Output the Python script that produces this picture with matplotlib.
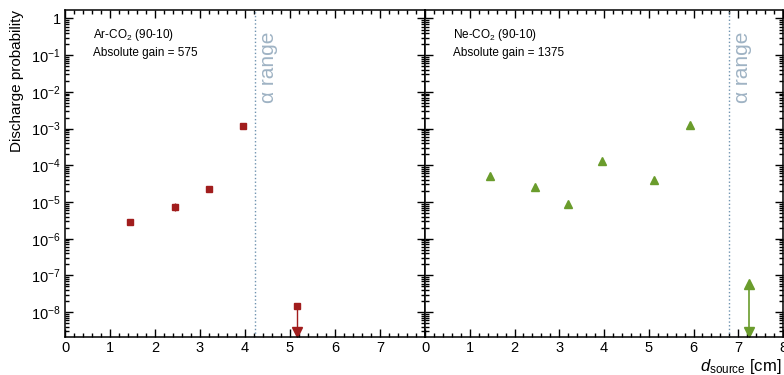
import matplotlib
matplotlib.use("Agg")
import matplotlib.pyplot as plt
from matplotlib.ticker import LogLocator, FixedLocator, FixedFormatter, MultipleLocator, NullFormatter

plt.rcParams['font.family'] = ['Liberation Sans', 'DejaVu Sans']
plt.rcParams['mathtext.fontset'] = 'custom'
plt.rcParams['mathtext.rm'] = 'Liberation Sans'
plt.rcParams['mathtext.it'] = 'Liberation Sans:italic'

# === Data ===
# Ar-CO2 (90-10), gain 575
ar_d = [1.45, 2.45, 3.2, 3.95]
ar_p = [2.8e-6, 7.5e-6, 2.3e-5, 1.15e-3]
ar_err = [0.2e-6, 1.8e-6, 1.5e-6, 0.08e-3]
ar_lim_d = [5.15]
ar_lim_p = [1.5e-8]
ar_alpha = 4.22

# Ne-CO2 (90-10), gain 1375
ne_d = [1.45, 2.45, 3.2, 3.95, 5.12, 5.93]
ne_p = [5.0e-5, 2.6e-5, 8.7e-6, 1.3e-4, 3.9e-5, 1.25e-3]
ne_lim_d = [7.25]
ne_lim_p = [5.7e-8]
ne_alpha = 6.79

ytick_vals = [1, 1e-1, 1e-2, 1e-3, 1e-4, 1e-5, 1e-6, 1e-7, 1e-8]
ytick_labels = ["1"] + ["$10^{-%d}$" % k for k in range(1, 9)]

RED = "#a11d1d"
GREEN = "#6a9c2c"
LINE_C = "#6f93b0"
TXT_C = "#9fb3c4"

YMIN, YMAX = 2.1e-9, 1.7

fig = plt.figure(figsize=(7.84, 3.75), dpi=100)
ax1 = fig.add_axes([65/784, 1 - 337/375, 360/784, 327/375])
ax2 = fig.add_axes([425/784, 1 - 337/375, 358/784, 327/375])

for ax in (ax1, ax2):
    ax.set_yscale("log")
    ax.set_xlim(0, 8)
    ax.set_ylim(YMIN, YMAX)
    ax.xaxis.set_major_locator(MultipleLocator(1))
    ax.xaxis.set_minor_locator(MultipleLocator(0.2))
    ax.yaxis.set_major_locator(FixedLocator(ytick_vals))
    ax.yaxis.set_minor_locator(LogLocator(base=10, subs=range(2, 10), numticks=20))
    ax.yaxis.set_minor_formatter(NullFormatter())
    ax.tick_params(which="both", direction="in", top=True, right=True, width=1.0,
                   labelsize=10.5, pad=3)
    ax.tick_params(which="major", length=6)
    ax.tick_params(which="minor", length=3)
    for s in ax.spines.values():
        s.set_linewidth(1.1)

ax1.yaxis.set_major_formatter(FixedFormatter(ytick_labels))
ax2.yaxis.set_major_formatter(NullFormatter())
ax1.xaxis.set_major_locator(FixedLocator(range(0, 9)))
ax1.xaxis.set_major_formatter(FixedFormatter([str(i) for i in range(8)] + [""]))

# Ar-CO2
ax1.errorbar(ar_d, ar_p, yerr=ar_err, fmt="s", color=RED, ms=5, elinewidth=1, capsize=0)
for d, p in zip(ar_lim_d, ar_lim_p):
    ax1.plot([d, d], [p, YMIN], color=RED, lw=1)
    ax1.plot(d, p, "s", color=RED, ms=5)
    ax1.plot(d, YMIN * 1.35, "v", color=RED, ms=7, clip_on=False)
ax1.axvline(ar_alpha, color=LINE_C, ls=":", lw=1)
ax1.text(ar_alpha + 0.1, 0.935, r"α range", transform=ax1.get_xaxis_transform(),
         rotation=90, va="top", ha="left", color=TXT_C, fontsize=15)
ax1.text(0.078, 0.925, r"Ar-CO$_2$ (90-10)", transform=ax1.transAxes, fontsize=8.5, va="center")
ax1.text(0.078, 0.87, "Absolute gain = 575", transform=ax1.transAxes, fontsize=8.5, va="center")
ax1.set_ylabel("Discharge probability", loc="top", fontsize=11, labelpad=5)

# Ne-CO2
ax2.plot(ne_d, ne_p, "^", color=GREEN, ms=6)
for d, p in zip(ne_lim_d, ne_lim_p):
    ax2.plot([d, d], [p, YMIN], color=GREEN, lw=1.2)
    ax2.plot(d, p, "^", color=GREEN, ms=7)
    ax2.plot(d, YMIN * 1.35, "v", color=GREEN, ms=7, clip_on=False)
ax2.axvline(ne_alpha, color=LINE_C, ls=":", lw=1)
ax2.text(ne_alpha + 0.1, 0.935, r"α range", transform=ax2.get_xaxis_transform(),
         rotation=90, va="top", ha="left", color=TXT_C, fontsize=15)
ax2.text(0.078, 0.925, r"Ne-CO$_2$ (90-10)", transform=ax2.transAxes, fontsize=8.5, va="center")
ax2.text(0.078, 0.87, "Absolute gain = 1375", transform=ax2.transAxes, fontsize=8.5, va="center")
fig.text(0.997, 1 - 366/375, r"$d_{\mathrm{source}}$ [cm]", ha="right", va="center", fontsize=12)

fig.savefig("out.png", dpi=100)
